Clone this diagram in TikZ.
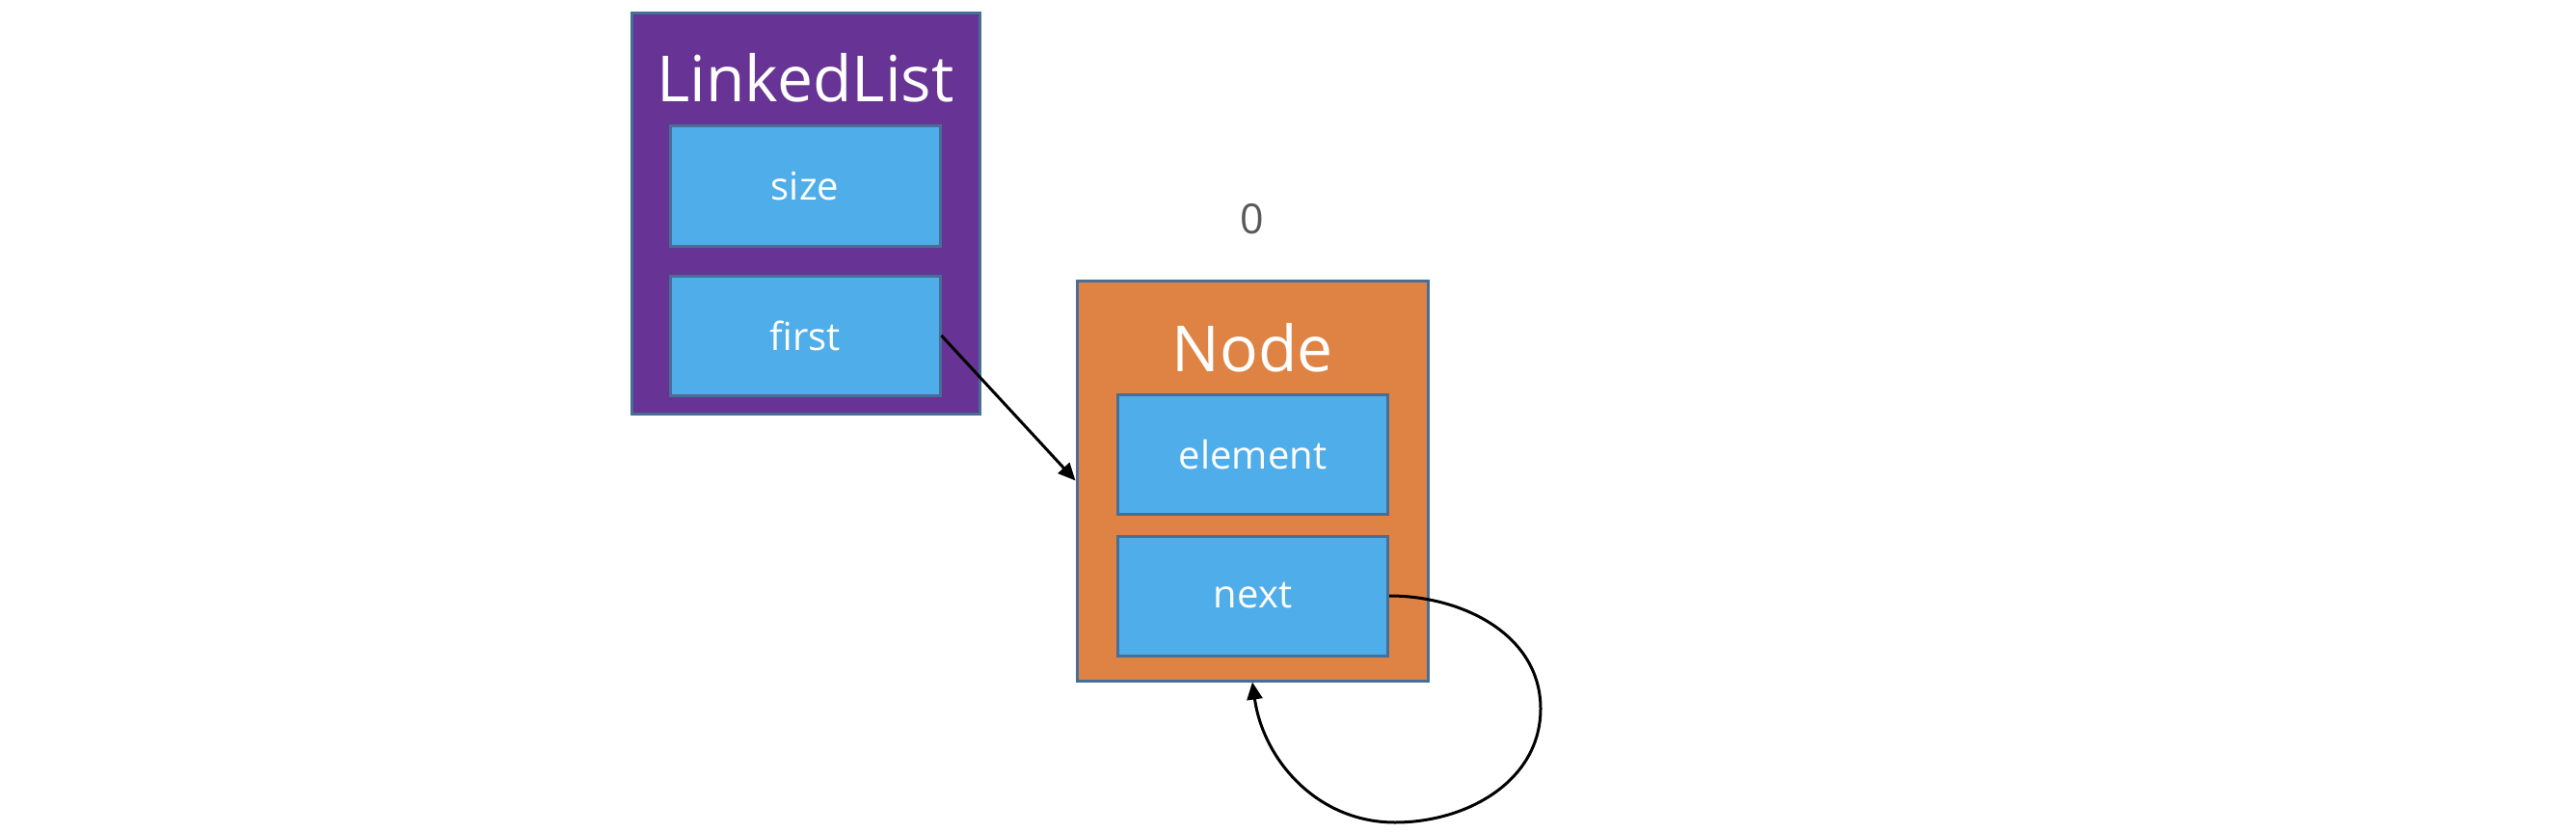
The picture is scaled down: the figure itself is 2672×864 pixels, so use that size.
\documentclass[tikz,border=0pt]{standalone}
\usepackage{fontspec}
\setmainfont{Open Sans}
\usetikzlibrary{arrows.meta}
\definecolor{llpurple}{RGB}{103,51,148}
\definecolor{fieldblue}{RGB}{79,173,234}
\definecolor{nodeorange}{RGB}{223,131,68}
\definecolor{edgeblue}{RGB}{70,110,150}
\definecolor{labelgray}{RGB}{89,89,89}
\tikzset{
  outerbox/.style={draw=edgeblue, line width=3pt, minimum width=361pt, minimum height=415pt, inner sep=0pt},
  fieldbox/.style={draw=edgeblue, line width=3pt, fill=fieldblue, minimum width=280pt, minimum height=124pt, inner sep=0pt, text=white, font=\fontsize{40pt}{48pt}\selectfont},
  titletext/.style={text=white, font=\fontsize{66pt}{80pt}\selectfont, anchor=base, inner sep=0pt},
  link/.style={draw=black, line width=3pt, -{Triangle[length=18pt,width=16pt]}}
}
\begin{document}
\begin{tikzpicture}[x=1pt,y=-1pt]
\useasboundingbox (0,0) rectangle (2672,864);
% LinkedList
\node[outerbox, fill=llpurple] (ll) at (835.5,221.5) {};
\node[titletext] (lltitle) at (835.5,106) {LinkedList};
\node[fieldbox] (size) at (835,193) {size};
\node[fieldbox] (first) at (835,348) {first};
% Node
\node[outerbox, fill=nodeorange, minimum width=364pt] (nd) at (1299,498.5) {};
\node[titletext] (ndtitle) at (1299,385) {Node};
\node[fieldbox] (element) at (1299.5,471) {element};
\node[fieldbox] (next) at (1299.5,618) {next};
\node[anchor=base, inner sep=0pt, text=labelgray, font=\fontsize{43pt}{50pt}\selectfont] (idx) at (1299,242) {0};
% connectors
\draw[link] (first.east) -- (nd.west);
\coordinate (loopright) at (1598,735);
\coordinate (loopbottom) at (1447,853);
\draw[link] (next.east) to[out=0,in=90] (loopright) to[out=-90,in=0] (loopbottom) to[out=180,in=-82] (nd.south);
\end{tikzpicture}
\end{document}
